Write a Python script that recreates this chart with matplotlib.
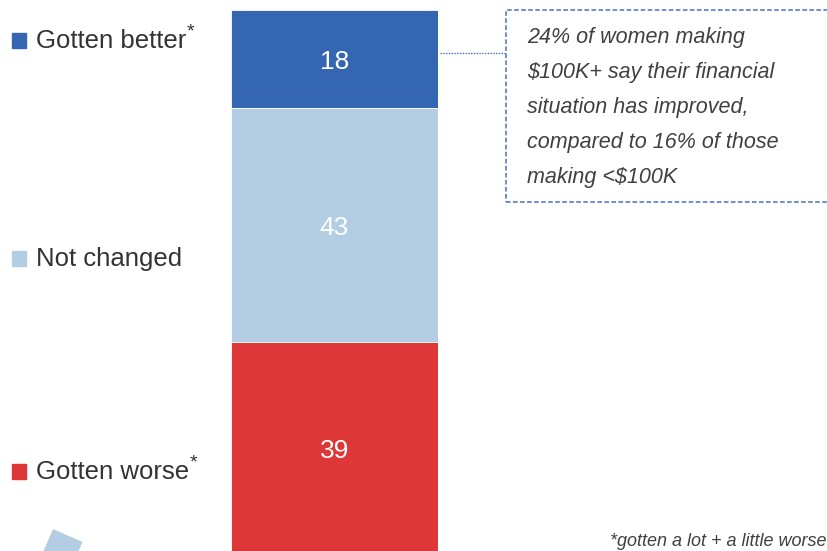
import matplotlib
matplotlib.use("Agg")
import matplotlib.pyplot as plt
from matplotlib.patches import Rectangle, Polygon
from matplotlib.lines import Line2D

plt.rcParams['font.family'] = ['Liberation Sans', 'DejaVu Sans']

# ---- data ----
categories = ["Gotten better", "Not changed", "Gotten worse"]
values = [18, 43, 39]
legend_labels = ["Gotten better", "Not changed", "Gotten worse"]
legend_star = [True, False, True]
colors = ["#3566B1", "#B3CDE3", "#DD3737"]
note_text = ("24% of women making\n$100K+ say their financial\n"
             "situation has improved,\ncompared to 16% of those\nmaking <$100K")
footnote = "*gotten a lot + a little worse"

W, H = 827, 551
fig = plt.figure(figsize=(W / 100, H / 100), dpi=100)

def fx(px):
    return px / W

def fy(py):
    return 1 - py / H

# bar axes (pixel 231..438 horizontally, top at 10px, bottom at fig edge)
ax = fig.add_axes([fx(231), 0, fx(438) - fx(231), fy(10)])
ax.set_xlim(-0.5, 0.5)
ax.set_ylim((H - 10) / 5.44, 0)
ax.axis('off')

bottom = 0
for cat, v, c in zip(categories, values, colors):
    ax.bar(0, v, bottom=bottom, width=1.0, color=c, edgecolor='white', linewidth=0.6)
    ax.annotate(str(v), (0, bottom + v / 2), xytext=(0, -3),
                textcoords='offset pixels', ha='center', va='center',
                color='white', fontsize=19)
    bottom += v

# legend
leg_y = [41, 259, 472]
renderer = fig.canvas.get_renderer()
for lab, star, c, py in zip(legend_labels, legend_star, colors, leg_y):
    fig.patches.append(Rectangle((fx(12), fy(py + 7)), fx(14), 15 / H,
                                 transform=fig.transFigure, color=c, figure=fig))
    t = fig.text(fx(36), fy(py), lab, ha='left', va='center', fontsize=18.5,
                 color='#333333')
    if star:
        bb = t.get_window_extent(renderer=renderer)
        fig.text(bb.x1 / W + 0.001, fy(py - 9), "*", ha='left', va='center',
                 fontsize=14, color='#333333')

# annotation box
box = Rectangle((fx(506), fy(202)), fx(340), (202 - 10) / H,
                transform=fig.transFigure, fill=False, edgecolor='#4472C4',
                linewidth=1.1, linestyle=(0, (3, 1.6)), figure=fig)
fig.patches.append(box)
fig.lines.append(Line2D([fx(440), fx(506)], [fy(53), fy(53)],
                        transform=fig.transFigure, color='#4472C4',
                        linewidth=1.0, linestyle=(0, (1, 1)), figure=fig))
fig.text(fx(527), fy(27), note_text, ha='left', va='top', fontsize=15.5,
         style='italic', color='#404040', linespacing=1.87)

# footnote (at bottom-right edge)
fig.text(fx(826), fy(550), footnote, ha='right', va='bottom', fontsize=13,
         style='italic', color='#404040')

# decorative shape bottom-left
fig.patches.append(Polygon([(fx(53.3), fy(530)), (fx(81.7), fy(542.3)),
                            (fx(74), fy(560)), (fx(40.4), fy(560))],
                           closed=True, transform=fig.transFigure,
                           color='#B3CDE3', figure=fig))

fig.savefig("out.png", dpi=100)
